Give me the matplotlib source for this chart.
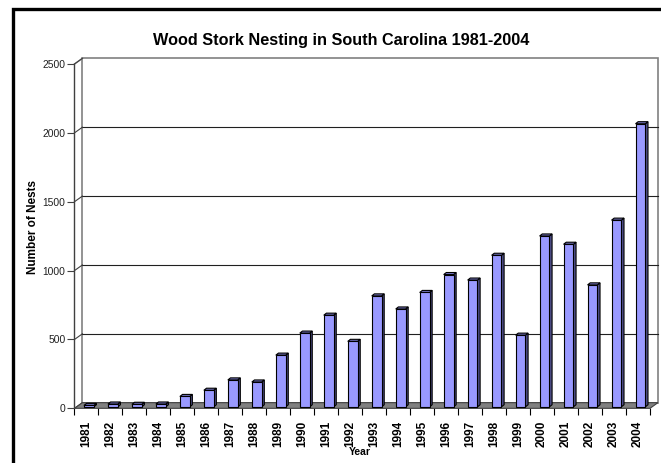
import matplotlib
matplotlib.use("Agg")
import matplotlib.pyplot as plt
from matplotlib.patches import Polygon, Rectangle

plt.rcParams['font.family'] = ['Liberation Sans', 'DejaVu Sans']

# Nest counts per year
years = [str(y) for y in range(1981, 2005)]
nests = [10, 20, 18, 20, 75, 120, 195, 180, 375, 535, 665, 475,
         805, 710, 830, 960, 920, 1100, 520, 1240, 1180, 885, 1355, 2055]
y_ticks = [0, 500, 1000, 1500, 2000, 2500]

title = "Wood Stork Nesting in South Carolina 1981-2004"
x_label = "Year"
y_label = "Number of Nests"

# pseudo-3D geometry (category units along x, value units along y)
FLOOR_DX, FLOOR_DY = 0.33, 41      # depth of the floor / back wall offset
BAR_DX0, BAR_DY0 = 0.10, 11        # front face of each column sits mid-depth
BAR_W = 0.41
BAR_DX, BAR_DY = 0.11, 15          # column depth
FRONT = '#9999ff'
SIDE = '#4f4f8a'
TOP = '#7676c4'
WALL_EDGE = '#808080'

fig = plt.figure(figsize=(6.61, 4.63), dpi=100)
ax = fig.add_axes([0.1127, 0.1181, 0.8707, 0.7437])
n = len(years)
ax.set_xlim(0, n)
ax.set_ylim(0, 2500)
ax.patch.set_visible(False)
for s in ['top', 'right', 'bottom']:
    ax.spines[s].set_visible(False)
ax.spines['left'].set_color('#404040')
ax.spines['left'].set_linewidth(1.0)

# back wall
wall = Rectangle((FLOOR_DX, FLOOR_DY), n, 2500, facecolor='white',
                 edgecolor=WALL_EDGE, linewidth=1.2, clip_on=False, zorder=0)
ax.add_patch(wall)
# left side wall top edge
ax.plot([0, FLOOR_DX], [2500, 2500 + FLOOR_DY], color=WALL_EDGE, lw=1.0,
        clip_on=False, zorder=1)

# gridlines on the back wall with diagonal connectors to the front axis
for v in y_ticks[1:-1]:
    ax.plot([FLOOR_DX, n + FLOOR_DX], [v + FLOOR_DY, v + FLOOR_DY],
            color='#202020', lw=0.8, clip_on=False, zorder=1)
for v in y_ticks:
    ax.plot([0, FLOOR_DX], [v, v + FLOOR_DY], color='#404040', lw=0.8,
            clip_on=False, zorder=1)

# floor
floor = Polygon([(0, 0), (n, 0), (n + FLOOR_DX, FLOOR_DY), (FLOOR_DX, FLOOR_DY)],
                closed=True, facecolor='#808080', edgecolor='#404040',
                linewidth=0.8, clip_on=False, zorder=2)
ax.add_patch(floor)

# columns
centers = [i + 0.5 + BAR_DX0 for i in range(n)]
ax.bar(centers, nests, width=BAR_W, bottom=BAR_DY0, color=FRONT,
       edgecolor='black', linewidth=0.8, zorder=4, clip_on=False)
for c, v in zip(centers, nests):
    x0, x1 = c - BAR_W / 2, c + BAR_W / 2
    top_y = BAR_DY0 + v
    side = Polygon([(x1, BAR_DY0), (x1 + BAR_DX, BAR_DY0 + BAR_DY),
                    (x1 + BAR_DX, top_y + BAR_DY), (x1, top_y)],
                   closed=True, facecolor=SIDE, edgecolor='black',
                   linewidth=0.8, zorder=3, clip_on=False)
    top = Polygon([(x0, top_y), (x1, top_y), (x1 + BAR_DX, top_y + BAR_DY),
                   (x0 + BAR_DX, top_y + BAR_DY)],
                  closed=True, facecolor=TOP, edgecolor='black',
                  linewidth=0.8, zorder=3, clip_on=False)
    ax.add_patch(side)
    ax.add_patch(top)

# axes ticks
ax.set_yticks(y_ticks)
ax.set_yticklabels([str(v) for v in y_ticks], fontsize=7.4, color='#202020')
ax.tick_params(axis='y', length=5, width=0.8, color='#404040', pad=1.5)
ax.set_xticks(range(n + 1))
ax.set_xticklabels([])
ax.set_xticks([i + 0.5 for i in range(n)], minor=True)
ax.set_xticklabels(years, minor=True, rotation=90, fontsize=8.5,
                   fontweight='bold')
ax.tick_params(axis='x', which='major', length=5, width=0.8, color='black')
ax.tick_params(axis='x', which='minor', length=0, pad=9)

fig.text(0.5159, 1 - 41 / 463, title, ha='center', va='center',
         fontsize=11.7, fontweight='bold')
fig.text(0.5446, 1 - 452 / 463, x_label, ha='center', va='center',
         fontsize=7.5, fontweight='bold')
fig.text(0.05, 1 - 227 / 463, y_label, ha='center', va='center',
         rotation=90, fontsize=8.5, fontweight='bold')

# chart frame
frame = Rectangle((13.3 / 661, -0.2), 1.2, 1 - 9 / 463 + 0.2,
                  transform=fig.transFigure, fill=False, edgecolor='black',
                  linewidth=2.4, clip_on=False)
fig.patches.append(frame)

fig.savefig('out.png', dpi=100)
